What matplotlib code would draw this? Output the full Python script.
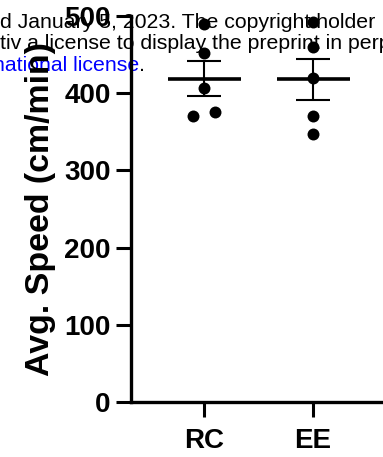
import numpy as np
import matplotlib
matplotlib.use("Agg")
import matplotlib.pyplot as plt

categories = ["RC", "EE"]
rc_values = [490, 452, 407, 376, 370]
ee_values = [492, 460, 420, 370, 347]
rc_offsets = [0.0, 0.0, 0.0, 0.105, -0.105]
ee_offsets = [0.0, 0.0, 0.0, 0.0, 0.0]
yticks = [0, 100, 200, 300, 400, 500]
ylabel = "Avg. Speed (cm/min)"

plt.rcParams['font.family'] = ['Liberation Sans', 'DejaVu Sans']

fig = plt.figure(figsize=(3.83, 4.57), dpi=100)
ax = fig.add_axes([131/383, 55/457, 1 - 131/383, (402-16)/457])
ax.patch.set_visible(False)

# background overlay text (preprint footer)
fs = 15.3
fig.text(0.0, 1 - 28.5/457, "d January 5, 2023. The copyright holder", fontsize=fs,
         ha="left", va="baseline", color="black", zorder=-5)
fig.text(0.0, 1 - 49/457, "tiv a license to display the preprint in perp", fontsize=fs,
         ha="left", va="baseline", color="black", zorder=-5)
t3 = fig.text(-7/383, 1 - 71/457, "national license", fontsize=fs,
              ha="left", va="baseline", color="#0000ff", zorder=-5)
fig.canvas.draw()
bb = t3.get_window_extent()
fig.text(bb.x1 / fig.bbox.width, 1 - 71/457, ".", fontsize=fs, ha="left",
         va="baseline", color="black", zorder=-5)

groups = [rc_values, ee_values]
offsets = [rc_offsets, ee_offsets]
for i, (vals, offs) in enumerate(zip(groups, offsets)):
    vals = np.array(vals, dtype=float)
    m = vals.mean()
    sem = vals.std(ddof=1) / np.sqrt(len(vals))
    ax.scatter(i + np.array(offs), vals, s=(8.6)**2, color="black", zorder=3,
               clip_on=False, linewidths=0)
    ax.plot([i - 0.335, i + 0.335], [m, m], color="black", lw=2.6,
            solid_capstyle="butt", zorder=4)
    ax.errorbar([i], [m], yerr=[sem], fmt="none", ecolor="black", elinewidth=1.5,
                capsize=12.5, capthick=1.5, zorder=4)

ax.set_xlim(-0.67, 1.642)
ax.set_ylim(0, 500)
ax.set_xticks(range(len(categories)))
ax.set_xticklabels(categories, fontsize=20, fontweight="bold")
ax.set_yticks(yticks)
ax.set_yticklabels([str(v) for v in yticks], fontsize=20, fontweight="bold")
ax.tick_params(axis="y", length=11, width=2.2, pad=3.5)
ax.tick_params(axis="x", length=11, width=2.2, pad=8)
for s in ["top", "right"]:
    ax.spines[s].set_visible(False)
for s in ["left", "bottom"]:
    ax.spines[s].set_linewidth(2.4)
ax.set_ylabel(ylabel, fontsize=24.4, fontweight="bold", labelpad=6)

fig.savefig("out.png", dpi=100)
